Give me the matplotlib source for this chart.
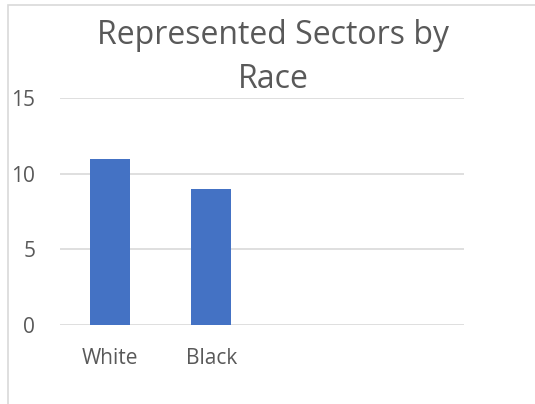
import matplotlib
matplotlib.use("Agg")
import matplotlib.pyplot as plt
from matplotlib.patches import Rectangle

categories = ["White", "Black", "", ""]
values = [11, 9, 0, 0]
yticks = [0, 5, 10, 15]

plt.rcParams['font.family'] = ['Open Sans', 'DejaVu Sans']
text_color = "#595959"
grid_color = "#d9d9d9"
bar_color = "#4472c4"

fig = plt.figure(figsize=(5.35, 4.04), dpi=100)
fig.patch.set_facecolor("white")

# chart area border (extends past the right/bottom edge)
fig.patches.append(Rectangle((8 / 535, -0.1), 1.2, (404 - 4) / 404 + 0.1 - 0.003,
                             transform=fig.transFigure, fill=False,
                             edgecolor=grid_color, linewidth=1.2))

ax = fig.add_axes([59.5 / 535, (404 - 325) / 404, (464 - 59.5) / 535, (325 - 98) / 404])
x = list(range(len(categories)))
ax.bar(x, values, width=0.4, color=bar_color, zorder=3)
ax.set_xlim(-0.5, len(categories) - 0.5)
ax.set_ylim(0, 15)
ax.set_yticks(yticks)
ax.set_xticks(x)
ax.set_xticklabels(categories)
ax.yaxis.grid(True, color=grid_color, linewidth=1.2, zorder=0)
for s in ax.spines.values():
    s.set_visible(False)
ax.tick_params(axis="both", length=0, colors=text_color, labelsize=15)
ax.tick_params(axis="y", pad=17.5)
ax.tick_params(axis="x", pad=16.5)

fig.text(273 / 535, 1 - 57.5 / 404, "Represented Sectors by\nRace", ha="center", va="center",
         fontsize=23, color=text_color, linespacing=1.4)

fig.savefig("out.png", dpi=100)
